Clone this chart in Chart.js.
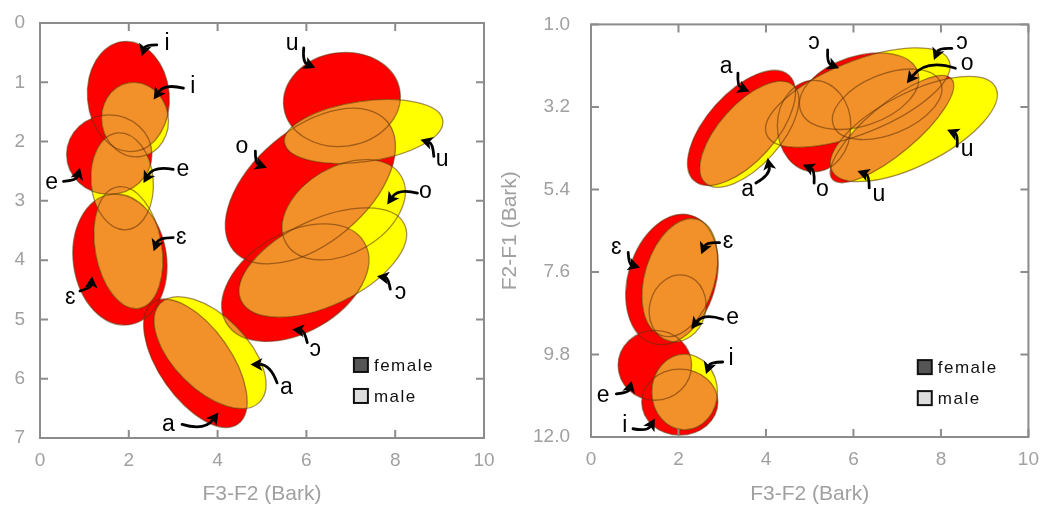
<!DOCTYPE html>
<html>
<head>
<meta charset="utf-8">
<script src="https://cdn.jsdelivr.net/npm/chart.js@4.4.1/dist/chart.umd.min.js"></script>
<style>
  html, body { margin: 0; padding: 0; background: #fff; }
  #wrap { position: relative; width: 1042px; height: 505px; overflow: hidden; }
  .pane { position: absolute; top: 0; height: 505px; }
  #left { left: 0; width: 500px; }
  #right { left: 500px; width: 542px; }
</style>
</head>
<body>
<div id="wrap">
  <div class="pane" id="left"><canvas id="chartLeft"></canvas></div>
  <div class="pane" id="right"><canvas id="chartRight"></canvas></div>
</div>
<script>
// Elipses de dispersion de vocales (mujer / hombre), dos planos en Bark
// cada elipse: [vocal, centro x, centro y, radio x, radio y, giro en grados]
const xTicks = [0, 2, 4, 6, 8, 10];
const yTicksLeft = [0, 1, 2, 3, 4, 5, 6, 7];
const yTicksRight = [1.0, 3.2, 5.4, 7.6, 9.8, 12.0];

const leftFemale = [
  ['i', 1.99, 1.24, 0.92, 0.93, -5],
  ['e', 1.56, 2.22, 0.96, 0.67, 0],
  ['ɛ', 1.80, 3.99, 1.05, 1.11, -8],
  ['a', 3.50, 5.74, 0.81, 1.25, -35],
  ['ɔ', 5.75, 4.38, 1.80, 0.84, -30],
  ['o', 6.09, 2.75, 2.26, 0.96, -40],
  ['u', 6.80, 1.29, 1.32, 0.79, -8]
];
const leftMale = [
  ['i', 2.14, 1.63, 0.75, 0.63, -10],
  ['e', 1.85, 2.67, 0.70, 0.82, -5],
  ['ɛ', 1.99, 3.79, 0.75, 1.04, -10],
  ['a', 3.83, 5.56, 0.83, 1.18, -45],
  ['ɔ', 6.37, 4.04, 2.03, 0.73, -25],
  ['o', 6.84, 3.15, 1.50, 0.73, -30],
  ['u', 7.29, 1.83, 1.80, 0.51, -8]
];
const rightFemale = [
  ['i', 2.03, 11.07, 0.87, 0.88, 0],
  ['e', 1.46, 10.09, 0.84, 0.93, 0],
  ['ɛ', 1.85, 7.80, 1.00, 1.78, 17],
  ['a', 3.44, 3.76, 1.62, 0.92, -48],
  ['ɔ', 6.13, 2.78, 1.41, 0.93, -18],
  ['o', 5.10, 3.71, 0.84, 1.22, 0],
  ['u', 6.88, 3.79, 1.78, 0.66, -40]
];
const rightMale = [
  ['i', 2.14, 10.80, 0.75, 1.01, 0],
  ['e', 1.98, 8.57, 0.64, 0.90, 15],
  ['ɛ', 2.03, 7.75, 0.80, 1.62, 17],
  ['a', 3.62, 3.93, 1.50, 0.82, -48],
  ['ɔ', 6.10, 2.95, 2.25, 0.96, -22],
  ['o', 6.77, 3.13, 1.32, 0.80, -22],
  ['u', 7.38, 3.79, 2.10, 0.96, -27]
];

// etiquetas: [texto, x, y, cola x, cola y, punta x, punta y]
const leftLabels = [
  ['i', 2.86, 0.34, 2.63, 0.37, 2.29, 0.56],
  ['i', 3.44, 1.08, 3.23, 1.10, 2.56, 1.29],
  ['e', 0.26, 2.70, 0.53, 2.67, 0.90, 2.44],
  ['e', 3.22, 2.47, 3.00, 2.47, 2.33, 2.70],
  ['ɛ', 3.18, 3.62, 3.00, 3.62, 2.56, 3.85],
  ['ɛ', 0.68, 4.63, 0.90, 4.52, 1.17, 4.27],
  ['a', 2.89, 6.77, 3.20, 6.77, 4.02, 6.57],
  ['a', 5.55, 6.15, 5.34, 6.07, 4.74, 5.76],
  ['ɔ', 6.20, 5.51, 6.02, 5.39, 5.68, 5.17],
  ['ɔ', 8.12, 4.55, 7.89, 4.49, 7.59, 4.27],
  ['o', 8.68, 2.84, 8.50, 2.87, 7.82, 3.06],
  ['o', 4.55, 2.08, 4.85, 2.16, 5.11, 2.44],
  ['u', 5.68, 0.34, 5.94, 0.42, 6.20, 0.76],
  ['u', 9.06, 2.30, 8.87, 2.25, 8.57, 1.97]
];
const rightLabels = [
  ['a', 3.09, 2.12, 3.36, 2.30, 3.62, 2.79],
  ['ɔ', 5.10, 1.50, 5.41, 1.68, 5.67, 2.17],
  ['ɔ', 8.48, 1.50, 8.25, 1.64, 7.84, 1.95],
  ['o', 8.60, 2.04, 8.33, 2.17, 7.22, 2.57],
  ['u', 8.60, 4.34, 8.37, 4.25, 8.14, 3.81],
  ['a', 3.58, 5.40, 3.77, 5.23, 4.04, 4.56],
  ['o', 5.29, 5.40, 5.10, 5.23, 4.84, 4.74],
  ['u', 6.58, 5.53, 6.36, 5.36, 6.09, 4.91],
  ['ɛ', 0.58, 6.95, 0.85, 7.08, 1.12, 7.48],
  ['ɛ', 3.13, 6.78, 2.94, 6.82, 2.52, 7.13],
  ['e', 3.24, 8.81, 3.01, 8.86, 2.29, 9.12],
  ['i', 3.20, 9.92, 3.01, 10.00, 2.63, 10.32],
  ['e', 0.28, 10.89, 0.58, 10.85, 0.93, 10.50],
  ['i', 0.77, 11.69, 0.96, 11.78, 1.46, 11.51]
];
const legendNames = ['female', 'male'];

const RED = '#ff0000';
const YELLOW = '#ffff00';
const ORANGE = '#f2902a';
const GREY = '#a0a0a0';
const FONT = '"Liberation Sans", "DejaVu Sans", sans-serif';

function toPts(list){
  return list.map(r => ({ v: r[0], x: r[1], y: r[2], rx: r[3], ry: r[4], rot: r[5] }));
}

function ellipsePath(g, p, x, y){
  const cx = x.getPixelForValue(p.x);
  const cy = y.getPixelForValue(p.y);
  const rx = Math.abs(x.getPixelForValue(p.x + p.rx) - cx);
  const ry = Math.abs(y.getPixelForValue(p.y + p.ry) - cy);
  g.ellipse(cx, cy, rx, ry, p.rot * Math.PI / 180, 0, Math.PI * 2);
}

function drawArrow(ctx, x0, y0, x1, y1, bend){
  const dx = x1 - x0, dy = y1 - y0;
  const qx = (x0 + x1) / 2 - dy * bend, qy = (y0 + y1) / 2 + dx * bend;
  const tx = x1 - qx, ty = y1 - qy, tl = Math.hypot(tx, ty) || 1;
  const ux = tx / tl, uy = ty / tl;
  const hl = 12, hw = 6.5;
  const bx = x1 - ux * hl, by = y1 - uy * hl;
  ctx.beginPath();
  ctx.moveTo(x0, y0);
  ctx.quadraticCurveTo(qx, qy, bx + ux * 3, by + uy * 3);
  ctx.lineWidth = 2.8;
  ctx.stroke();
  ctx.beginPath();
  ctx.moveTo(x1, y1);
  ctx.lineTo(bx - uy * hw, by + ux * hw);
  ctx.lineTo(bx + ux * 3, by + uy * 3);
  ctx.lineTo(bx + uy * hw, by - ux * hw);
  ctx.closePath();
  ctx.fill();
}

const vowelPlugin = {
  id: 'vowelChart',
  beforeDatasetsDraw(chart){
    const { ctx, chartArea: area, scales: { x, y } } = chart;
    const W = chart.canvas.width, H = chart.canvas.height, dpr = chart.currentDevicePixelRatio;
    const sets = chart.data.datasets;
    const fem = sets.find(d => d.sex === 'f').data;
    const mal = sets.find(d => d.sex === 'm').data;

    const layer = (pts, color) => {
      const c = document.createElement('canvas');
      c.width = W; c.height = H;
      const g = c.getContext('2d');
      g.setTransform(dpr, 0, 0, dpr, 0, 0);
      g.beginPath(); g.rect(area.left, area.top, area.right - area.left, area.bottom - area.top); g.clip();
      g.fillStyle = color;
      pts.forEach(p => { g.beginPath(); ellipsePath(g, p, x, y); g.fill(); });
      return c;
    };
    const F = layer(fem, RED);
    const M = layer(mal, YELLOW);
    // zona comun -> naranja
    const I = document.createElement('canvas');
    I.width = W; I.height = H;
    const gi = I.getContext('2d');
    gi.drawImage(F, 0, 0);
    gi.globalCompositeOperation = 'destination-in';
    gi.drawImage(M, 0, 0);
    gi.globalCompositeOperation = 'source-in';
    gi.fillStyle = ORANGE;
    gi.fillRect(0, 0, W, H);

    ctx.save();
    ctx.setTransform(1, 0, 0, 1, 0, 0);
    ctx.drawImage(F, 0, 0);
    ctx.drawImage(M, 0, 0);
    ctx.drawImage(I, 0, 0);
    ctx.restore();

    ctx.save();
    ctx.beginPath(); ctx.rect(area.left, area.top, area.right - area.left, area.bottom - area.top); ctx.clip();
    ctx.strokeStyle = 'rgba(95,50,10,0.55)';
    ctx.lineWidth = 1.3;
    fem.concat(mal).forEach(p => { ctx.beginPath(); ellipsePath(ctx, p, x, y); ctx.stroke(); });
    ctx.restore();
  },
  afterDatasetsDraw(chart, args, opts){
    const { ctx, chartArea: a, scales: { x, y } } = chart;
    ctx.save();
    // marco y marcas hacia dentro
    ctx.strokeStyle = '#8c8c8c';
    ctx.lineWidth = 2;
    ctx.strokeRect(a.left, a.top, a.right - a.left, a.bottom - a.top);
    const tk = 8;
    ctx.beginPath();
    x.ticks.forEach(t => {
      const px = x.getPixelForValue(t.value);
      ctx.moveTo(px, a.bottom); ctx.lineTo(px, a.bottom - tk);
      ctx.moveTo(px, a.top); ctx.lineTo(px, a.top + tk);
    });
    y.ticks.forEach(t => {
      const py = y.getPixelForValue(t.value);
      ctx.moveTo(a.left, py); ctx.lineTo(a.left + tk, py);
      ctx.moveTo(a.right, py); ctx.lineTo(a.right - tk, py);
    });
    ctx.stroke();

    // etiquetas con flechas
    ctx.fillStyle = '#000';
    ctx.strokeStyle = '#000';
    ctx.lineCap = 'round';
    ctx.font = '23px ' + FONT;
    ctx.textAlign = 'center';
    ctx.textBaseline = 'middle';
    opts.labels.forEach(l => {
      ctx.fillText(l[0], x.getPixelForValue(l[1]), y.getPixelForValue(l[2]));
      drawArrow(ctx, x.getPixelForValue(l[3]), y.getPixelForValue(l[4]),
                x.getPixelForValue(l[5]), y.getPixelForValue(l[6]), 0.35);
    });

    // leyenda
    const lx = x.getPixelForValue(opts.legendAt[0]);
    const ly = y.getPixelForValue(opts.legendAt[1]);
    ctx.font = '17px ' + FONT;
    ctx.textAlign = 'left';
    ctx.letterSpacing = '1.5px';
    chart.data.datasets.forEach((d, i) => {
      const by = ly + i * 31;
      ctx.fillStyle = d.backgroundColor;
      ctx.fillRect(lx, by, 14, 14);
      ctx.lineWidth = 2;
      ctx.strokeStyle = '#111';
      ctx.strokeRect(lx, by, 14, 14);
      ctx.fillStyle = '#111';
      ctx.fillText(legendNames[i], lx + 20, by + 8);
    });
    ctx.restore();
  }
};

function makeChart(id, cfg){
  const titleFont = { family: FONT, size: 21, lineHeight: 1.0 };
  return new Chart(document.getElementById(id), {
    type: 'scatter',
    data: {
      datasets: [
        { label: legendNames[0], sex: 'f', data: toPts(cfg.female), pointRadius: 0, backgroundColor: '#555555' },
        { label: legendNames[1], sex: 'm', data: toPts(cfg.male), pointRadius: 0, backgroundColor: '#dddddd' }
      ]
    },
    options: {
      animation: false,
      responsive: true,
      maintainAspectRatio: false,
      layout: { padding: { top: 23, right: cfg.padRight, left: 0, bottom: 0 } },
      plugins: {
        legend: { display: false },
        tooltip: { enabled: false },
        vowelChart: { labels: cfg.labels, legendAt: cfg.legendAt }
      },
      scales: {
        x: {
          type: 'linear', min: 0, max: 10,
          grid: { display: false }, border: { display: false },
          afterBuildTicks: s => { s.ticks = xTicks.map(v => ({ value: v })); },
          afterFit: s => { s.height = cfg.xAxisH; },
          ticks: { padding: 3, color: GREY, font: { family: FONT, size: 19 }, maxRotation: 0, autoSkip: false },
          title: { display: true, text: 'F3-F2 (Bark)', color: GREY, font: titleFont, padding: { top: 0, bottom: 0 } }
        },
        y: {
          type: 'linear', reverse: true, min: cfg.yTicks[0], max: cfg.yTicks[cfg.yTicks.length - 1],
          grid: { display: false }, border: { display: false },
          afterBuildTicks: s => { s.ticks = cfg.yTicks.map(v => ({ value: v })); },
          afterFit: s => { s.width = cfg.yAxisW; },
          ticks: { padding: cfg.yPad, color: GREY, font: { family: FONT, size: 19 }, autoSkip: false, callback: cfg.yFmt },
          title: { display: cfg.yTitle, text: 'F2-F1 (Bark)', color: GREY, font: titleFont, padding: { top: 0, bottom: 0 } }
        }
      }
    },
    plugins: [vowelPlugin]
  });
}

makeChart('chartLeft', {
  female: leftFemale, male: leftMale, labels: leftLabels,
  legendAt: [7.07, 5.65], yTicks: yTicksLeft, yFmt: v => String(v),
  padRight: 16, xAxisH: 67, yAxisW: 40, yPad: 7, yTitle: false
});
makeChart('chartRight', {
  female: rightFemale, male: rightMale, labels: rightLabels,
  legendAt: [7.47, 9.95], yTicks: yTicksRight, yFmt: v => Number(v).toFixed(1),
  padRight: 12, xAxisH: 68, yAxisW: 91, yPad: 13, yTitle: true
});
</script>
</body>
</html>
